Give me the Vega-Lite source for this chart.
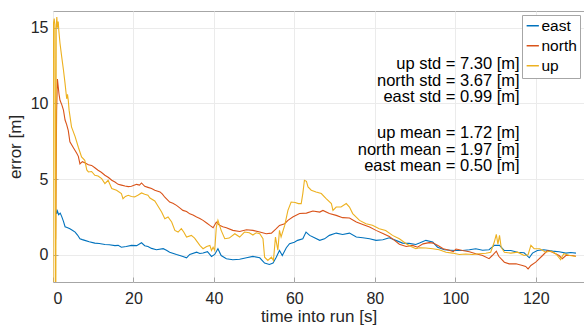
{
  "$schema": "https://vega.github.io/schema/vega-lite/v6.json",
  "width": 531,
  "height": 271,
  "autosize": {"type": "none"},
  "padding": {"left": 53, "top": 11, "right": 0, "bottom": 46},
  "background": "white",
  "config": {
    "font": "Liberation Sans",
    "view": {"stroke": "#a6a6a6", "strokeWidth": 1},
    "axis": {
      "domain": false,
      "grid": true,
      "gridColor": "#ebebeb",
      "gridWidth": 1,
      "tickColor": "#a6a6a6",
      "tickSize": -5,
      "labelFont": "Liberation Sans",
      "labelFontSize": 16,
      "labelColor": "#262626",
      "titleFont": "Liberation Sans",
      "titleFontSize": 17,
      "titleFontWeight": "normal",
      "titleColor": "#262626"
    }
  },
  "layer": [
    {
      "data": {
        "values": [
          {"t":0.7,"s":"east","v":3.0},{"t":0.9,"s":"east","v":2.7},{"t":1.1,"s":"east","v":2.9},{"t":1.4,"s":"east","v":2.65},{"t":1.8,"s":"east","v":2.75},{"t":2.2,"s":"east","v":2.5},{"t":2.6,"s":"east","v":2.2},{"t":3.0,"s":"east","v":1.85},{"t":3.5,"s":"east","v":1.8},{"t":4.2,"s":"east","v":1.72},{"t":4.8,"s":"east","v":1.62},{"t":5.5,"s":"east","v":1.5},{"t":6.1,"s":"east","v":1.3},{"t":6.7,"s":"east","v":1.06},{"t":7.3,"s":"east","v":1.0},{"t":7.9,"s":"east","v":0.95},{"t":9.0,"s":"east","v":0.86},{"t":10.4,"s":"east","v":0.77},{"t":11.5,"s":"east","v":0.74},{"t":12.9,"s":"east","v":0.68},{"t":14.0,"s":"east","v":0.66},{"t":15.4,"s":"east","v":0.6},{"t":16.2,"s":"east","v":0.62},{"t":17.0,"s":"east","v":0.5},{"t":18.2,"s":"east","v":0.55},{"t":19.5,"s":"east","v":0.62},{"t":20.8,"s":"east","v":0.6},{"t":22.0,"s":"east","v":0.79},{"t":22.8,"s":"east","v":0.6},{"t":23.6,"s":"east","v":0.55},{"t":24.5,"s":"east","v":0.42},{"t":25.7,"s":"east","v":0.33},{"t":27.4,"s":"east","v":0.4},{"t":28.2,"s":"east","v":0.3},{"t":29.0,"s":"east","v":0.17},{"t":30.7,"s":"east","v":0.02},{"t":32.3,"s":"east","v":-0.11},{"t":33.2,"s":"east","v":-0.2},{"t":34.0,"s":"east","v":0.02},{"t":35.7,"s":"east","v":0.17},{"t":36.5,"s":"east","v":0.08},{"t":37.3,"s":"east","v":0.11},{"t":38.4,"s":"east","v":0.2},{"t":39.4,"s":"east","v":-0.11},{"t":40.2,"s":"east","v":0.02},{"t":41.0,"s":"east","v":0.4},{"t":41.8,"s":"east","v":-0.05},{"t":43.1,"s":"east","v":-0.27},{"t":44.7,"s":"east","v":-0.33},{"t":46.4,"s":"east","v":-0.3},{"t":48.1,"s":"east","v":-0.2},{"t":49.7,"s":"east","v":-0.11},{"t":51.4,"s":"east","v":-0.2},{"t":52.6,"s":"east","v":-0.55},{"t":53.8,"s":"east","v":-0.64},{"t":54.7,"s":"east","v":-0.55},{"t":55.5,"s":"east","v":-0.16},{"t":56.3,"s":"east","v":0.28},{"t":57.0,"s":"east","v":-0.05},{"t":58.0,"s":"east","v":0.46},{"t":58.8,"s":"east","v":0.73},{"t":60.0,"s":"east","v":0.83},{"t":60.8,"s":"east","v":0.95},{"t":62.1,"s":"east","v":1.06},{"t":62.9,"s":"east","v":1.5},{"t":63.8,"s":"east","v":1.28},{"t":65.0,"s":"east","v":1.12},{"t":66.3,"s":"east","v":0.95},{"t":67.5,"s":"east","v":1.05},{"t":68.7,"s":"east","v":1.28},{"t":70.4,"s":"east","v":1.43},{"t":72.0,"s":"east","v":1.34},{"t":73.7,"s":"east","v":1.43},{"t":75.4,"s":"east","v":1.17},{"t":77.0,"s":"east","v":1.12},{"t":78.7,"s":"east","v":1.06},{"t":80.3,"s":"east","v":0.95},{"t":82.0,"s":"east","v":0.99},{"t":83.6,"s":"east","v":1.12},{"t":85.2,"s":"east","v":0.95},{"t":86.9,"s":"east","v":0.77},{"t":88.5,"s":"east","v":0.75},{"t":90.2,"s":"east","v":0.68},{"t":91.1,"s":"east","v":0.77},{"t":92.7,"s":"east","v":0.95},{"t":94.4,"s":"east","v":0.84},{"t":95.6,"s":"east","v":0.5},{"t":97.3,"s":"east","v":0.33},{"t":98.8,"s":"east","v":0.3},{"t":100.2,"s":"east","v":0.28},{"t":101.8,"s":"east","v":0.28},{"t":103.5,"s":"east","v":0.33},{"t":105.1,"s":"east","v":0.4},{"t":106.8,"s":"east","v":0.3},{"t":108.4,"s":"east","v":0.33},{"t":109.7,"s":"east","v":0.62},{"t":111.0,"s":"east","v":0.62},{"t":112.2,"s":"east","v":0.28},{"t":113.8,"s":"east","v":0.28},{"t":115.5,"s":"east","v":0.17},{"t":117.1,"s":"east","v":0.13},{"t":118.4,"s":"east","v":-0.2},{"t":119.2,"s":"east","v":0.11},{"t":120.4,"s":"east","v":0.28},{"t":122.0,"s":"east","v":0.33},{"t":124.2,"s":"east","v":0.24},{"t":125.8,"s":"east","v":0.2},{"t":127.5,"s":"east","v":0.11},{"t":128.7,"s":"east","v":0.15},{"t":130.0,"s":"east","v":0.11},

          {"t":0.65,"s":"north","v":1.0},{"t":0.9,"s":"north","v":9.5},{"t":1.1,"s":"north","v":11.6},{"t":1.3,"s":"north","v":11.1},{"t":1.5,"s":"north","v":10.6},{"t":1.74,"s":"north","v":10.2},{"t":2.2,"s":"north","v":9.9},{"t":2.6,"s":"north","v":9.55},{"t":3.0,"s":"north","v":8.9},{"t":3.4,"s":"north","v":8.6},{"t":3.8,"s":"north","v":8.2},{"t":4.2,"s":"north","v":7.46},{"t":5.0,"s":"north","v":7.1},{"t":5.9,"s":"north","v":6.7},{"t":6.3,"s":"north","v":6.5},{"t":6.7,"s":"north","v":6.0},{"t":7.3,"s":"north","v":6.15},{"t":7.9,"s":"north","v":6.07},{"t":8.8,"s":"north","v":5.95},{"t":9.6,"s":"north","v":5.9},{"t":10.4,"s":"north","v":5.75},{"t":11.2,"s":"north","v":5.58},{"t":12.0,"s":"north","v":5.45},{"t":12.9,"s":"north","v":5.25},{"t":13.8,"s":"north","v":5.1},{"t":14.6,"s":"north","v":4.92},{"t":15.4,"s":"north","v":4.8},{"t":16.2,"s":"north","v":4.65},{"t":17.0,"s":"north","v":4.6},{"t":17.9,"s":"north","v":4.54},{"t":18.7,"s":"north","v":4.5},{"t":19.5,"s":"north","v":4.52},{"t":20.3,"s":"north","v":4.6},{"t":20.8,"s":"north","v":4.65},{"t":21.5,"s":"north","v":4.6},{"t":22.0,"s":"north","v":4.74},{"t":22.8,"s":"north","v":4.52},{"t":23.6,"s":"north","v":4.45},{"t":24.5,"s":"north","v":4.37},{"t":25.3,"s":"north","v":4.26},{"t":26.6,"s":"north","v":4.15},{"t":27.2,"s":"north","v":4.0},{"t":27.8,"s":"north","v":3.8},{"t":29.0,"s":"north","v":3.48},{"t":29.8,"s":"north","v":3.4},{"t":30.7,"s":"north","v":3.26},{"t":31.5,"s":"north","v":3.1},{"t":32.3,"s":"north","v":2.93},{"t":33.2,"s":"north","v":2.85},{"t":34.0,"s":"north","v":2.7},{"t":34.8,"s":"north","v":2.62},{"t":35.7,"s":"north","v":2.5},{"t":36.5,"s":"north","v":2.4},{"t":37.3,"s":"north","v":2.27},{"t":38.2,"s":"north","v":2.1},{"t":39.0,"s":"north","v":1.94},{"t":39.8,"s":"north","v":1.79},{"t":40.6,"s":"north","v":2.16},{"t":41.4,"s":"north","v":1.94},{"t":42.2,"s":"north","v":1.85},{"t":43.1,"s":"north","v":1.79},{"t":44.7,"s":"north","v":1.61},{"t":46.4,"s":"north","v":1.54},{"t":48.1,"s":"north","v":1.65},{"t":49.7,"s":"north","v":1.61},{"t":51.4,"s":"north","v":1.5},{"t":53.0,"s":"north","v":1.39},{"t":54.3,"s":"north","v":1.43},{"t":55.5,"s":"north","v":1.72},{"t":56.3,"s":"north","v":1.94},{"t":57.6,"s":"north","v":2.05},{"t":58.4,"s":"north","v":2.27},{"t":59.6,"s":"north","v":2.49},{"t":61.3,"s":"north","v":2.72},{"t":63.0,"s":"north","v":2.75},{"t":64.6,"s":"north","v":2.89},{"t":66.3,"s":"north","v":2.82},{"t":67.1,"s":"north","v":2.93},{"t":68.7,"s":"north","v":2.72},{"t":70.4,"s":"north","v":2.6},{"t":72.0,"s":"north","v":2.45},{"t":73.7,"s":"north","v":2.43},{"t":75.4,"s":"north","v":2.16},{"t":77.0,"s":"north","v":2.0},{"t":78.7,"s":"north","v":1.83},{"t":80.3,"s":"north","v":1.61},{"t":82.0,"s":"north","v":1.4},{"t":83.6,"s":"north","v":1.2},{"t":84.9,"s":"north","v":0.95},{"t":86.1,"s":"north","v":0.7},{"t":87.8,"s":"north","v":0.55},{"t":89.4,"s":"north","v":0.62},{"t":90.6,"s":"north","v":0.5},{"t":92.0,"s":"north","v":0.72},{"t":93.5,"s":"north","v":0.8},{"t":94.5,"s":"north","v":0.77},{"t":95.8,"s":"north","v":0.6},{"t":97.0,"s":"north","v":0.4},{"t":98.5,"s":"north","v":0.3},{"t":99.5,"s":"north","v":0.2},{"t":100.2,"s":"north","v":0.38},{"t":101.8,"s":"north","v":0.28},{"t":103.5,"s":"north","v":0.2},{"t":105.1,"s":"north","v":0.07},{"t":106.8,"s":"north","v":-0.05},{"t":108.4,"s":"north","v":-0.26},{"t":109.2,"s":"north","v":-0.05},{"t":110.2,"s":"north","v":0.24},{"t":110.8,"s":"north","v":-0.1},{"t":112.2,"s":"north","v":-0.49},{"t":113.4,"s":"north","v":-0.6},{"t":115.1,"s":"north","v":-0.6},{"t":116.7,"s":"north","v":-0.71},{"t":117.5,"s":"north","v":-0.77},{"t":118.1,"s":"north","v":-0.93},{"t":118.8,"s":"north","v":-0.71},{"t":120.0,"s":"north","v":-0.49},{"t":121.7,"s":"north","v":-0.05},{"t":122.9,"s":"north","v":0.28},{"t":124.2,"s":"north","v":0.17},{"t":125.8,"s":"north","v":-0.05},{"t":126.6,"s":"north","v":-0.26},{"t":127.5,"s":"north","v":-0.05},{"t":129.1,"s":"north","v":-0.05},{"t":130.0,"s":"north","v":-0.1},

          {"t":0.0,"s":"up","v":-4},{"t":0.12,"s":"up","v":15.3},{"t":0.3,"s":"up","v":15.6},{"t":0.45,"s":"up","v":15.2},{"t":0.6,"s":"up","v":-4},{"t":0.7,"s":"up","v":-4},{"t":0.8,"s":"up","v":15.0},{"t":0.95,"s":"up","v":15.7},{"t":1.1,"s":"up","v":15.0},{"t":1.3,"s":"up","v":15.4},{"t":1.45,"s":"up","v":14.8},{"t":1.74,"s":"up","v":13.97},{"t":2.15,"s":"up","v":13.1},{"t":2.6,"s":"up","v":12.2},{"t":3.0,"s":"up","v":11.3},{"t":3.4,"s":"up","v":10.3},{"t":3.6,"s":"up","v":10.6},{"t":3.8,"s":"up","v":10.2},{"t":4.0,"s":"up","v":9.55},{"t":4.6,"s":"up","v":8.45},{"t":5.5,"s":"up","v":7.8},{"t":6.3,"s":"up","v":7.1},{"t":7.1,"s":"up","v":6.46},{"t":7.9,"s":"up","v":6.24},{"t":8.4,"s":"up","v":5.6},{"t":8.8,"s":"up","v":5.47},{"t":9.6,"s":"up","v":5.5},{"t":10.4,"s":"up","v":5.25},{"t":11.2,"s":"up","v":5.2},{"t":12.1,"s":"up","v":5.03},{"t":12.9,"s":"up","v":4.7},{"t":13.7,"s":"up","v":4.92},{"t":14.6,"s":"up","v":4.37},{"t":15.8,"s":"up","v":4.26},{"t":17.0,"s":"up","v":4.04},{"t":17.4,"s":"up","v":3.7},{"t":18.0,"s":"up","v":3.85},{"t":18.7,"s":"up","v":3.93},{"t":19.5,"s":"up","v":3.85},{"t":20.3,"s":"up","v":3.82},{"t":21.2,"s":"up","v":3.95},{"t":22.0,"s":"up","v":4.08},{"t":22.8,"s":"up","v":4.0},{"t":23.6,"s":"up","v":3.93},{"t":24.1,"s":"up","v":3.75},{"t":25.3,"s":"up","v":3.55},{"t":25.7,"s":"up","v":3.38},{"t":27.0,"s":"up","v":2.82},{"t":27.8,"s":"up","v":2.38},{"t":28.6,"s":"up","v":2.5},{"t":29.5,"s":"up","v":2.16},{"t":30.3,"s":"up","v":1.61},{"t":31.1,"s":"up","v":1.5},{"t":31.9,"s":"up","v":1.72},{"t":32.5,"s":"up","v":1.5},{"t":33.2,"s":"up","v":1.17},{"t":34.4,"s":"up","v":1.28},{"t":35.2,"s":"up","v":1.1},{"t":36.5,"s":"up","v":0.62},{"t":37.3,"s":"up","v":0.4},{"t":38.2,"s":"up","v":0.55},{"t":39.0,"s":"up","v":0.62},{"t":39.4,"s":"up","v":0.28},{"t":39.8,"s":"up","v":0.5},{"t":40.2,"s":"up","v":0.28},{"t":40.6,"s":"up","v":1.83},{"t":41.0,"s":"up","v":2.27},{"t":41.8,"s":"up","v":1.61},{"t":42.7,"s":"up","v":1.06},{"t":43.8,"s":"up","v":1.1},{"t":45.2,"s":"up","v":1.39},{"t":46.4,"s":"up","v":1.17},{"t":47.6,"s":"up","v":1.5},{"t":48.8,"s":"up","v":1.45},{"t":49.7,"s":"up","v":1.3},{"t":50.5,"s":"up","v":1.45},{"t":51.4,"s":"up","v":1.39},{"t":52.2,"s":"up","v":1.06},{"t":52.6,"s":"up","v":-0.16},{"t":53.4,"s":"up","v":-0.38},{"t":54.3,"s":"up","v":-0.16},{"t":54.8,"s":"up","v":-0.38},{"t":55.3,"s":"up","v":1.17},{"t":55.9,"s":"up","v":0.3},{"t":56.3,"s":"up","v":1.61},{"t":56.7,"s":"up","v":1.17},{"t":57.6,"s":"up","v":1.94},{"t":58.4,"s":"up","v":2.93},{"t":59.2,"s":"up","v":3.48},{"t":60.2,"s":"up","v":3.45},{"t":61.0,"s":"up","v":3.38},{"t":61.7,"s":"up","v":3.38},{"t":62.1,"s":"up","v":4.04},{"t":62.5,"s":"up","v":4.92},{"t":63.0,"s":"up","v":4.85},{"t":63.4,"s":"up","v":4.48},{"t":64.2,"s":"up","v":4.26},{"t":65.4,"s":"up","v":4.15},{"t":66.7,"s":"up","v":4.04},{"t":67.9,"s":"up","v":3.7},{"t":69.2,"s":"up","v":3.38},{"t":69.6,"s":"up","v":2.93},{"t":70.4,"s":"up","v":3.15},{"t":71.6,"s":"up","v":3.15},{"t":72.9,"s":"up","v":3.38},{"t":73.7,"s":"up","v":3.15},{"t":74.5,"s":"up","v":2.72},{"t":76.2,"s":"up","v":2.27},{"t":77.8,"s":"up","v":2.05},{"t":79.4,"s":"up","v":1.95},{"t":81.1,"s":"up","v":1.72},{"t":82.7,"s":"up","v":1.6},{"t":84.4,"s":"up","v":1.28},{"t":86.1,"s":"up","v":1.06},{"t":87.8,"s":"up","v":0.73},{"t":89.0,"s":"up","v":0.55},{"t":90.2,"s":"up","v":0.4},{"t":91.1,"s":"up","v":0.46},{"t":92.7,"s":"up","v":0.45},{"t":94.4,"s":"up","v":0.4},{"t":96.0,"s":"up","v":0.33},{"t":97.7,"s":"up","v":0.17},{"t":99.3,"s":"up","v":0.11},{"t":101.0,"s":"up","v":0.02},{"t":102.6,"s":"up","v":0.05},{"t":104.3,"s":"up","v":0.02},{"t":106.0,"s":"up","v":0.07},{"t":107.6,"s":"up","v":0.1},{"t":108.8,"s":"up","v":0.17},{"t":109.7,"s":"up","v":0.84},{"t":110.2,"s":"up","v":1.34},{"t":110.6,"s":"up","v":0.7},{"t":111.0,"s":"up","v":1.28},{"t":111.4,"s":"up","v":0.5},{"t":112.2,"s":"up","v":0.17},{"t":113.8,"s":"up","v":0.11},{"t":115.5,"s":"up","v":0.17},{"t":117.1,"s":"up","v":-0.05},{"t":118.1,"s":"up","v":0.0},{"t":118.8,"s":"up","v":0.62},{"t":119.6,"s":"up","v":0.4},{"t":121.0,"s":"up","v":0.4},{"t":122.5,"s":"up","v":0.17},{"t":123.7,"s":"up","v":0.25},{"t":125.0,"s":"up","v":0.07},{"t":126.2,"s":"up","v":-0.33},{"t":126.6,"s":"up","v":-0.1},{"t":127.0,"s":"up","v":0.07},{"t":128.5,"s":"up","v":-0.05},{"t":130.0,"s":"up","v":-0.12}
        ]
      },
      "mark": {"type": "line", "clip": true, "strokeWidth": 1.1, "interpolate": "linear"},
      "encoding": {
        "x": {
          "field": "t", "type": "quantitative",
          "scale": {"domain": [0, 132], "nice": false, "zero": false},
          "axis": {"values": [0, 20, 40, 60, 80, 100, 120], "title": "time into run [s]", "labelPadding": 13, "titlePadding": 2}
        },
        "y": {
          "field": "v", "type": "quantitative",
          "scale": {"domain": [-1.8, 16.1], "nice": false, "zero": false},
          "axis": {"values": [0, 5, 10, 15], "title": "error [m]", "labelPadding": 10, "titlePadding": 6}
        },
        "color": {
          "field": "s", "type": "nominal",
          "scale": {"domain": ["east", "north", "up"], "range": ["#0072BD", "#D95319", "#EDB120"]},
          "legend": {
            "title": null,
            "orient": "top-right",
            "offset": 4,
            "fillColor": "white",
            "strokeColor": "#a6a6a6",
            "padding": 3,
            "symbolType": "stroke",
            "symbolSize": 150,
            "symbolStrokeWidth": 1.5,
            "labelFontSize": 15.5,
            "labelColor": "#000000",
            "labelFont": "Liberation Sans",
            "labelOffset": 1,
            "rowPadding": 3
          }
        }
      }
    },
    {
      "data": {
        "values": [
          {"t": 116.0, "v": 12.58, "label": "up std = 7.30 [m]"},
          {"t": 116.0, "v": 11.5, "label": "north std = 3.67 [m]"},
          {"t": 116.0, "v": 10.4, "label": "east std = 0.99 [m]"},
          {"t": 116.0, "v": 8.05, "label": "up mean = 1.72 [m]"},
          {"t": 116.0, "v": 6.95, "label": "north mean = 1.97 [m]"},
          {"t": 116.0, "v": 5.87, "label": "east mean = 0.50 [m]"}
        ]
      },
      "mark": {"type": "text", "align": "right", "baseline": "middle", "fontSize": 16.5, "font": "Liberation Sans", "color": "#000000"},
      "encoding": {
        "x": {"field": "t", "type": "quantitative"},
        "y": {"field": "v", "type": "quantitative"},
        "text": {"field": "label", "type": "nominal"}
      }
    }
  ]
}
